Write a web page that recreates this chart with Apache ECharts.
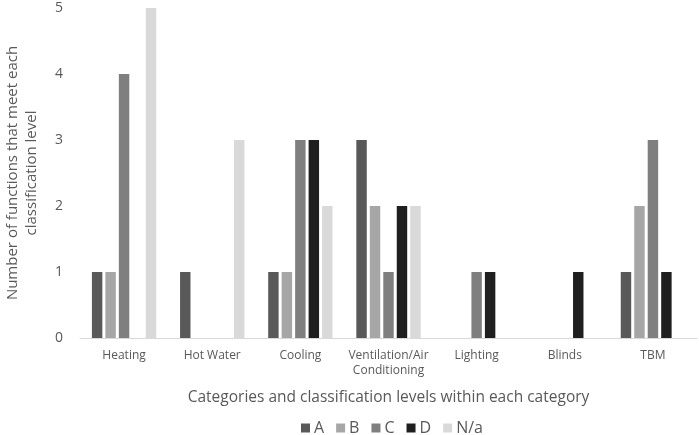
<!DOCTYPE html>
<html>
<head>
<meta charset="utf-8">
<script src="https://cdn.jsdelivr.net/npm/echarts@6/dist/echarts.min.js"></script>
<style>
  html, body { margin: 0; padding: 0; background: #fff; }
  #chart { width: 699px; height: 435px; }
</style>
</head>
<body>
<div id="chart"></div>
<script>
// categories along the x axis
const categories = ['Heating', 'Hot Water', 'Cooling', 'Ventilation/Air\nConditioning', 'Lighting', 'Blinds', 'TBM'];

// number of functions per classification level
const levelA  = [1, 1, 1, 3, 0, 0, 1];
const levelB  = [1, 0, 1, 2, 0, 0, 2];
const levelC  = [4, 0, 3, 1, 1, 0, 3];
const levelD  = [0, 0, 3, 2, 1, 1, 1];
const levelNa = [5, 3, 2, 2, 0, 0, 0];

const yTicks = [0, 1, 2, 3, 4, 5];

const textColor = '#595959';
const font = 'Open Sans';

function bar(name, data, color) {
  return {
    name: name,
    type: 'bar',
    data: data,
    barGap: '29%',
    barCategoryGap: '27%',
    itemStyle: { color: color },
    emphasis: { disabled: true }
  };
}

const chart = echarts.init(document.getElementById('chart'));
chart.setOption({
  animation: false,
  textStyle: { fontFamily: font, color: textColor },
  grid: { left: 80, right: 2, top: 8, bottom: 97, outerBoundsMode: 'none' },
  legend: {
    top: 420,
    left: 301,
    padding: 0,
    icon: 'rect',
    itemWidth: 9,
    itemHeight: 9,
    itemGap: 12,
    textStyle: { fontSize: 16, color: textColor, fontFamily: font, padding: [0, 0, 0, -1] },
    data: ['A', 'B', 'C', 'D', 'N/a']
  },
  xAxis: {
    type: 'category',
    data: categories,
    axisTick: { show: false },
    axisLine: { lineStyle: { color: '#d9d9d9', width: 1 } },
    axisLabel: { color: textColor, fontSize: 12, margin: 10, lineHeight: 15, interval: 0 },
    name: 'Categories and classification levels within each category',
    nameLocation: 'middle',
    nameGap: 52,
    nameTextStyle: { fontSize: 15.5, color: textColor }
  },
  yAxis: {
    type: 'value',
    min: yTicks[0],
    max: yTicks[yTicks.length - 1],
    interval: 1,
    splitLine: { show: false },
    axisLine: { show: false },
    axisTick: { show: false },
    axisLabel: { color: textColor, fontSize: 14, margin: 17 },
    name: 'Number of functions that meet each\nclassification level',
    nameLocation: 'middle',
    nameGap: 39,
    nameTextStyle: { fontSize: 15, color: textColor, lineHeight: 19 }
  },
  series: [
    bar('A', levelA, '#595959'),
    bar('B', levelB, '#a6a6a6'),
    bar('C', levelC, '#7f7f7f'),
    bar('D', levelD, '#1f1f1f'),
    bar('N/a', levelNa, '#d9d9d9')
  ]
});
</script>
</body>
</html>
